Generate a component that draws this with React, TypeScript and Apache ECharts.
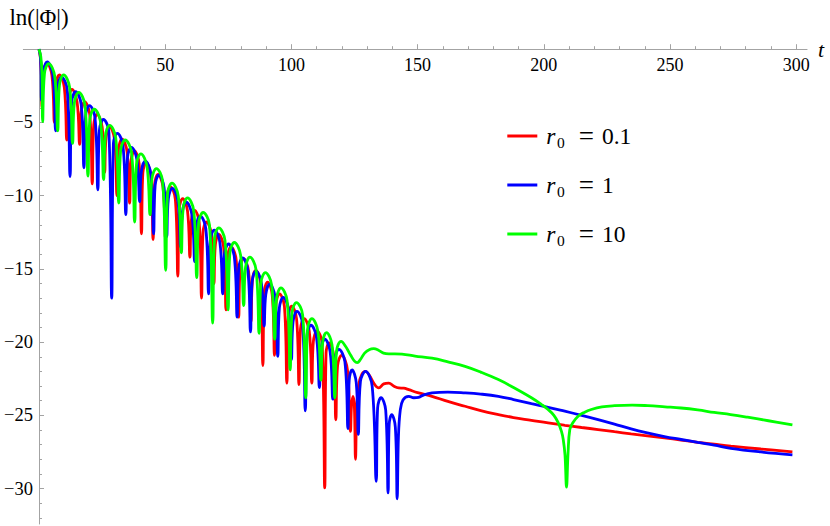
import React, { useEffect, useRef } from "react";
import * as echarts from "echarts";

// ---------- data ----------
const seriesNames = ["r0 = 0.1", "r0 = 1", "r0 = 10"];
const r0Labels = ["0.1", "1", "10"];
const seriesColors = ["#ff0000", "#0000ff", "#00ff00"];

const xMajorTicks = [50, 100, 150, 200, 250, 300];
const xMinorTicks = [10, 20, 30, 40, 60, 70, 80, 90, 110, 120, 130, 140, 160, 170, 180, 190, 210, 220, 230, 240, 260, 270, 280, 290];
const yMajorTicks = [-5, -10, -15, -20, -25, -30];
const yMinorTicks = [-1, -2, -3, -4, -6, -7, -8, -9, -11, -12, -13, -14, -16, -17, -18, -19, -21, -22, -23, -24, -26, -27, -28, -29, -31, -32];

// [t, ln|Phi|]
const redData = [
  [0, 0], [0.5, -0.5], [0.9, -1.5], [1.2, -4.0],
  [1.79, -1.65], [3.16, -0.95], [5.12, -1.8], [6.1, -5.0],
  [6.69, -2.45], [8.06, -1.75], [10.02, -2.6], [11.0, -6.2],
  [11.61, -3.45], [13.04, -2.75], [15.08, -3.6], [16.1, -6.5],
  [16.7, -4.3], [18.1, -3.6], [20.1, -4.45], [21.1, -9.2],
  [21.69, -5.15], [23.06, -4.45], [25.02, -5.3], [26.0, -8.4],
  [26.59, -6.0], [27.96, -5.3], [29.92, -6.15], [30.9, -10.0],
  [31.5, -6.85], [32.9, -6.15], [34.9, -7.0], [35.9, -10.5],
  [36.46, -7.65], [37.78, -6.95], [39.66, -7.8], [40.6, -12.6],
  [41.15, -8.45], [42.44, -7.75], [44.28, -8.6], [45.2, -13.0],
  [45.79, -9.25], [47.16, -8.55], [49.12, -9.4], [50.1, -12.9],
  [50.69, -10.1], [52.06, -9.4], [54.02, -10.25], [55.0, -15.5],
  [55.58, -10.9], [56.92, -10.2], [58.84, -11.05], [59.8, -14.2],
  [60.35, -11.7], [61.64, -11.0], [63.48, -11.85], [64.4, -17.0],
  [64.99, -12.5], [66.36, -11.8], [68.32, -12.65], [69.3, -16.0],
  [69.88, -13.35], [71.22, -12.65], [73.14, -13.5], [74.1, -17.8],
  [74.7, -14.2], [76.1, -13.5], [78.1, -14.35], [79.1, -18.3],
  [79.69, -15.0], [81.06, -14.3], [83.02, -15.15], [84.0, -18.6],
  [84.56, -15.8], [85.88, -15.1], [87.76, -15.95], [88.7, -21.6],
  [89.25, -16.6], [90.54, -15.9], [92.38, -16.75], [93.3, -20.9],
  [93.89, -17.4], [95.26, -16.7], [97.22, -17.55], [98.2, -22.8],
  [98.78, -18.25], [100.12, -17.55], [102.04, -18.4], [103.0, -22.9],
  [103.61, -19.1], [105.04, -18.4], [107.08, -19.25], [108.1, -22.8],
  [108.71, -19.95], [110.14, -19.25], [112.18, -20.1], [113.2, -29.95],
  [113.73, -20.75], [114.96, -20.05], [116.72, -20.9], [117.6, -25.3],
  [118.3, -21.6], [119.9, -20.9], [122.2, -21.9], [123.4, -26.1],
  [123.8, -24.4], [124.4, -23.7], [124.95, -24.4], [125.4, -28.0],
  [125.9, -24.5], [126.7, -22.9], [127.9, -22.2], [129.4, -22.0], [131.0, -22.3], [132.8, -22.85],
  [134.6, -23.13], [136.6, -22.85], [138.6, -22.8], [140.5, -23.0], [142.5, -23.13], [144.5, -23.15],
  [146.5, -23.25], [150, -23.45], [155.7, -23.7], [162, -24.05], [168.8, -24.38], [175, -24.68],
  [182, -24.95], [188, -25.15], [195.1, -25.34], [201.7, -25.52], [208.3, -25.68], [215, -25.83],
  [221.5, -25.97], [228, -26.12], [234.6, -26.27], [241, -26.4], [247.8, -26.54], [254.4, -26.69],
  [261, -26.84], [267.5, -26.97], [274.1, -27.1], [286, -27.3], [298.5, -27.5],
];

const blueData = [
  [0, 0], [0.5, -0.45], [0.8, -1.3], [1.0, -3.5],
  [1.67, -1.57], [3.24, -0.87], [5.48, -1.72], [6.6, -5.57],
  [7.28, -2.6], [8.88, -1.9], [11.16, -2.75], [12.3, -8.7],
  [12.96, -3.6], [14.5, -2.9], [16.7, -3.75], [17.8, -8.1],
  [18.46, -4.55], [20.0, -3.85], [22.2, -4.7], [23.3, -9.6],
  [23.96, -5.5], [25.5, -4.8], [27.7, -5.65], [28.8, -17.0],
  [29.47, -6.45], [31.04, -5.75], [33.28, -6.6], [34.4, -11.3],
  [35.06, -7.4], [36.6, -6.7], [38.8, -7.55], [39.9, -10.4],
  [40.56, -8.35], [42.1, -7.65], [44.3, -8.5], [45.4, -12.6],
  [46.02, -9.3], [47.48, -8.6], [49.56, -9.45], [50.6, -12.8],
  [51.26, -10.2], [52.8, -9.5], [55.0, -10.35], [56.1, -13.5],
  [56.77, -11.15], [58.34, -10.45], [60.58, -11.3], [61.7, -14.5],
  [62.36, -12.1], [63.9, -11.4], [66.1, -12.25], [67.2, -16.7],
  [67.87, -13.05], [69.44, -12.35], [71.68, -13.2], [72.8, -16.7],
  [73.48, -14.0], [75.08, -13.3], [77.36, -14.15], [78.5, -18.3],
  [79.14, -14.95], [80.62, -14.25], [82.74, -15.1], [83.8, -19.3],
  [84.45, -15.85], [85.96, -15.15], [88.12, -16.0], [89.2, -18.9],
  [89.85, -16.75], [91.36, -16.05], [93.52, -16.9], [94.6, -20.97],
  [95.25, -17.65], [96.76, -16.95], [98.92, -17.8], [100.0, -21.2],
  [100.66, -18.6], [102.2, -17.9], [104.4, -18.75], [105.5, -24.7],
  [106.17, -19.55], [107.74, -18.85], [109.98, -19.7], [111.1, -23.1],
  [111.74, -20.5], [113.22, -19.8], [115.34, -20.65], [116.4, -23.9],
  [117.12, -21.2], [118.8, -20.5], [121.2, -21.35], [122.4, -25.9],
  [122.9, -22.6], [124.04, -21.9], [125.68, -22.75], [126.5, -26.3],
  [127.35, -22.7], [129.34, -22.0], [132.0, -23.0], [133.6, -29.5],
  [134.16, -24.5], [135.5, -23.8], [137.36, -24.65], [138.3, -30.3],
  [138.73, -25.65], [139.74, -24.95], [141.18, -25.8], [141.9, -30.7],
  [142.4, -26.5], [143.1, -24.7], [144.2, -23.95], [146.5, -23.7], [148.5, -23.8], [150.4, -23.77],
  [152.5, -23.6], [155.7, -23.47], [162, -23.42], [168.8, -23.47], [175, -23.55], [182, -23.7],
  [188, -23.92], [195.1, -24.2], [201.7, -24.45], [208.3, -24.72], [215, -25.0], [221.5, -25.29],
  [228, -25.6], [234.6, -25.93], [241, -26.2], [247.8, -26.45], [254.4, -26.65], [261, -26.85],
  [267.5, -27.03], [274.1, -27.25], [286, -27.5], [298.5, -27.7],
];

const greenData = [
  [0, 0], [0.7, -0.5], [1.15, -1.6], [1.45, -4.95],
  [2.16, -1.68], [3.83, -0.98], [6.21, -1.83], [7.4, -5.57],
  [8.11, -2.45], [9.76, -1.75], [12.12, -2.6], [13.3, -6.43],
  [14.03, -3.65], [15.74, -2.95], [18.18, -3.8], [19.4, -8.66],
  [20.14, -4.8], [21.88, -4.1], [24.36, -4.95], [25.6, -8.9],
  [26.32, -5.9], [28.0, -5.2], [30.4, -6.05], [31.6, -10.5],
  [32.36, -6.9], [34.12, -6.2], [36.64, -7.05], [37.9, -11.8],
  [38.63, -7.85], [40.34, -7.15], [42.78, -8.0], [44.0, -11.3],
  [44.74, -8.85], [46.48, -8.15], [48.96, -9.0], [50.2, -15.1],
  [50.94, -9.85], [52.68, -9.15], [55.16, -10.0], [56.4, -13.9],
  [57.13, -10.85], [58.84, -10.15], [61.28, -11.0], [62.5, -15.6],
  [63.26, -11.85], [65.02, -11.15], [67.54, -12.0], [68.8, -18.7],
  [69.53, -12.9], [71.24, -12.2], [73.68, -13.05], [74.9, -17.8],
  [75.64, -13.9], [77.38, -13.2], [79.86, -14.05], [81.1, -17.5],
  [81.83, -14.9], [83.54, -14.2], [85.98, -15.05], [87.2, -19.4],
  [87.94, -15.95], [89.68, -15.25], [92.16, -16.1], [93.4, -19.8],
  [94.13, -17.0], [95.84, -16.3], [98.28, -17.15], [99.5, -21.9],
  [100.24, -18.0], [101.98, -17.3], [104.46, -18.15], [105.7, -23.8],
  [106.42, -19.1], [108.1, -18.4], [110.5, -19.25], [111.7, -22.6],
  [112.36, -20.05], [113.9, -19.35], [116.1, -20.2], [117.2, -23.8],
  [117.9, -20.6], [119.7, -19.95], [121.5, -20.3], [123.5, -20.9], [125.0, -21.3], [126.1, -21.4],
  [127.3, -21.2], [129.0, -20.75], [131.0, -20.5], [132.6, -20.45], [134.5, -20.55], [136.5, -20.75],
  [138.6, -20.8], [141, -20.8], [143.8, -20.82], [149, -20.95], [155.7, -21.1], [162, -21.35],
  [168.8, -21.66], [175, -22.05], [182, -22.56], [188, -23.1], [195.1, -23.8], [199, -24.25],
  [201.7, -24.6], [204, -25.0], [205.7, -25.5], [207, -26.1], [207.7, -26.65], [208.4, -27.7],
  [209.0, -29.9], [209.6, -27.6], [210.3, -25.97], [211.5, -25.5], [213.6, -25.06], [216, -24.8],
  [218.8, -24.6], [223, -24.42], [228, -24.34], [235, -24.3], [241.2, -24.34], [248, -24.42],
  [254.4, -24.5], [261, -24.63], [267.5, -24.8], [274, -24.95], [280.7, -25.13], [289, -25.37],
  [298.5, -25.65],
];

const seriesData = [redData, blueData, greenData];

// ---------- styling ----------
const FONT = "Liberation Serif, Times New Roman, serif";
const AXIS_COLOR = "#a3a3a3";
const X_MIN = -6.2;
const X_MAX = 304.3;
const Y_MIN = -32.42;
const Y_MAX = 0;
const Y_AXIS_SHIFT = -15.65; // y axis sits at t = 0, right of the grid's left edge
const legendTops = [122, 171, 220];

function buildOption(): any {
  const richStyles = {
    r: { fontFamily: FONT, fontStyle: "italic", fontSize: 23.5, lineHeight: 30, color: "#000", padding: [0, 0, 0, 4] },
    s: { fontFamily: FONT, fontSize: 15.5, lineHeight: 16, color: "#000", padding: [12, 0, 0, 1.5] },
    e: { fontFamily: FONT, fontSize: 27, lineHeight: 30, color: "#000", padding: [0, 8, 0, 14] },
    n: { fontFamily: FONT, fontSize: 23.5, lineHeight: 30, color: "#000" },
  };

  const yCommon = {
    type: "value",
    min: Y_MIN,
    max: Y_MAX,
    position: "left",
    offset: Y_AXIS_SHIFT,
    splitLine: { show: false },
  };

  return {
    animation: false,
    backgroundColor: "#ffffff",
    grid: {
      left: 23.35,
      top: 49.2,
      width: 783.7,
      height: 474.8,
      containLabel: false,
      outerBoundsMode: "none",
    },
    xAxis: [
      {
        type: "value",
        min: X_MIN,
        max: X_MAX,
        position: "top",
        axisLine: { show: true, onZero: false, lineStyle: { color: AXIS_COLOR, width: 1 } },
        axisTick: { show: true, inside: false, length: 5, customValues: xMajorTicks, lineStyle: { color: AXIS_COLOR, width: 1 } },
        axisLabel: {
          show: true,
          inside: true,
          customValues: xMajorTicks,
          margin: 7,
          color: "#000",
          fontSize: 18,
          fontFamily: FONT,
        },
        splitLine: { show: false },
        name: "t",
        nameLocation: "end",
        nameGap: 11,
        nameTextStyle: { fontStyle: "italic", fontSize: 22, fontFamily: FONT, color: "#000", verticalAlign: "middle" },
      },
      {
        type: "value",
        min: X_MIN,
        max: X_MAX,
        position: "top",
        axisLine: { show: false, onZero: false },
        axisTick: { show: true, inside: false, length: 3, customValues: xMinorTicks, lineStyle: { color: AXIS_COLOR, width: 1 } },
        axisLabel: { show: false },
        splitLine: { show: false },
      },
    ],
    yAxis: [
      {
        ...yCommon,
        axisLine: { show: true, onZero: false, lineStyle: { color: AXIS_COLOR, width: 1 } },
        axisTick: { show: true, inside: true, length: 5, customValues: yMajorTicks, lineStyle: { color: AXIS_COLOR, width: 1 } },
        axisLabel: {
          show: true,
          customValues: yMajorTicks,
          formatter: (v: number) => "\u2212" + Math.abs(v),
          margin: 6,
          color: "#000",
          fontSize: 18.5,
          fontFamily: FONT,
        },
        name: "ln(|\u03A6|)",
        nameLocation: "end",
        nameGap: 20,
        nameTextStyle: { fontSize: 23, fontFamily: FONT, color: "#000" },
      },
      {
        ...yCommon,
        axisLine: { show: false, onZero: false },
        axisTick: { show: true, inside: true, length: 3, customValues: yMinorTicks, lineStyle: { color: AXIS_COLOR, width: 1 } },
        axisLabel: { show: false },
      },
    ],
    legend: seriesNames.map((name, i) => ({
      data: [name],
      orient: "vertical",
      left: 507.3,
      top: legendTops[i],
      padding: 0,
      icon: "rect",
      itemWidth: 30,
      itemHeight: 3,
      selectedMode: false,
      formatter: () => `{r|r}{s|0}{e|=}{n|${r0Labels[i]}}`,
      textStyle: { color: "#000", fontFamily: FONT, fontSize: 23.5, rich: richStyles },
    })),
    series: seriesNames.map((name, i) => ({
      name,
      type: "line",
      data: seriesData[i],
      xAxisIndex: 0,
      yAxisIndex: 0,
      showSymbol: false,
      symbol: "none",
      smooth: 0.4,
      clip: false,
      silent: true,
      emphasis: { disabled: true },
      lineStyle: { color: seriesColors[i], width: 2.8 },
      itemStyle: { color: seriesColors[i] },
      z: 2 + i,
    })),
  };
}

export default function App() {
  const ref = useRef<HTMLDivElement | null>(null);
  useEffect(() => {
    if (!ref.current) return;
    const chart = echarts.init(ref.current, undefined, { renderer: "svg" });
    chart.setOption(buildOption());
    return () => {
      chart.dispose();
    };
  }, []);
  return (
    <div
      ref={ref}
      style={{ position: "absolute", left: 0, top: 0, width: 830, height: 526, background: "#fff" }}
    />
  );
}
